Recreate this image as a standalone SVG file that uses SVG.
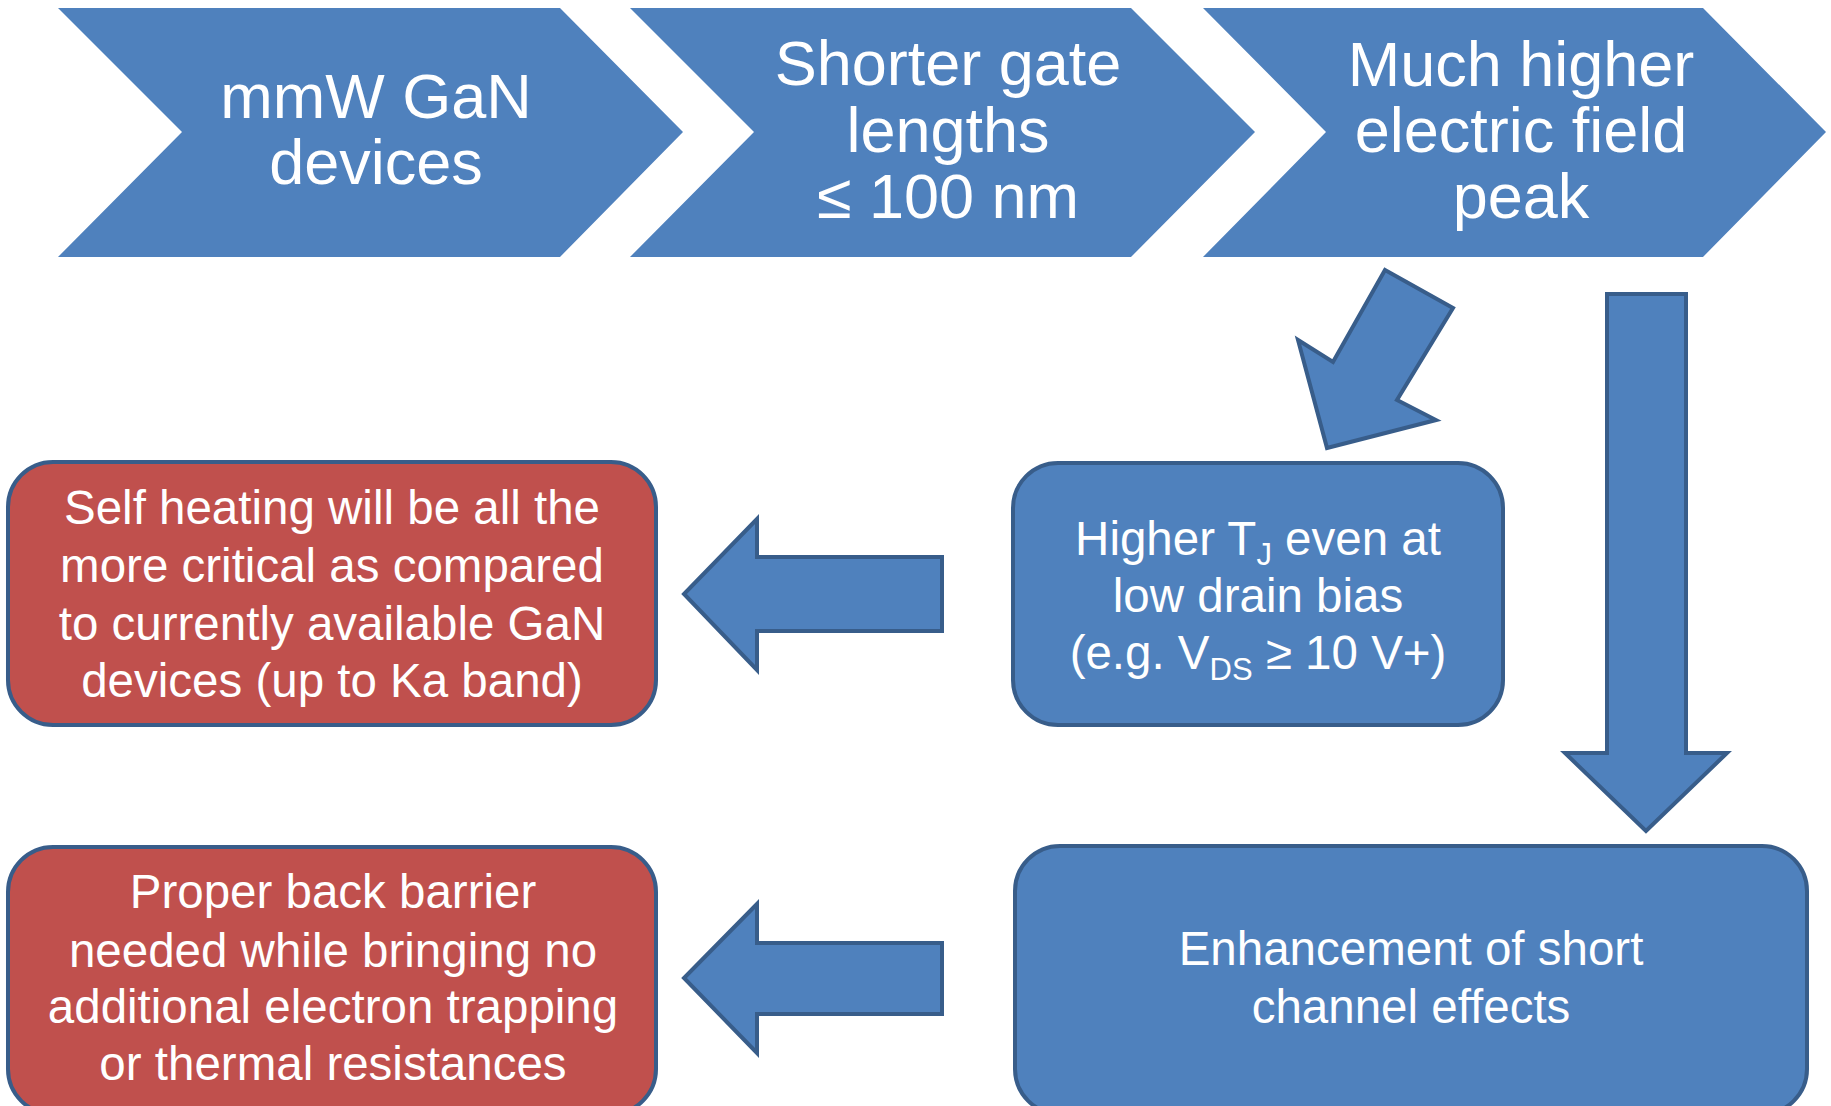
<svg xmlns="http://www.w3.org/2000/svg" width="1831" height="1106" viewBox="0 0 1831 1106">
<style>
.chev{fill:#4F81BD;}
.box{fill:#4F81BD;stroke:#385D8A;stroke-width:4;}
.red{fill:#C0504D;stroke:#385D8A;stroke-width:4;}
.arr{fill:#4F81BD;stroke:#385D8A;stroke-width:4;stroke-linejoin:miter;}
.t1{font-family:"Liberation Sans",Arial,sans-serif;font-size:63px;fill:#FFFFFF;text-anchor:middle;}
.t2{font-family:"Liberation Sans",Arial,sans-serif;font-size:47.5px;fill:#FFFFFF;text-anchor:middle;}
.sub{font-size:31px;}
</style>
<rect width="1831" height="1106" fill="#FFFFFF"/>
<g id="chevron-mmw">
<polygon class="chev" points="58,8 560,8 683,132 560,257 58,257 182,132"/>
<text class="t1" x="376" y="118">mmW GaN</text>
<text class="t1" x="376" y="184">devices</text>
</g>
<g id="chevron-gate">
<polygon class="chev" points="630,8 1131,8 1255,132 1131,257 630,257 754,132"/>
<text class="t1" x="948" y="85">Shorter gate</text>
<text class="t1" x="948" y="152">lengths</text>
<text class="t1" x="948" y="218">≤ 100 nm</text>
</g>
<g id="chevron-field">
<polygon class="chev" points="1203,8 1703,8 1826,132 1703,257 1203,257 1326,132"/>
<text class="t1" x="1521" y="86">Much higher</text>
<text class="t1" x="1521" y="152">electric field</text>
<text class="t1" x="1521" y="218">peak</text>
</g>
<g id="box-tj">
<rect class="box" x="1013" y="463" width="490" height="262" rx="45" ry="45"/>
<text class="t2" x="1258" y="555">Higher T<tspan class="sub" dy="10">J</tspan><tspan dy="-10"> even at</tspan></text>
<text class="t2" x="1258" y="612">low drain bias</text>
<text class="t2" x="1258" y="669">(e.g. V<tspan class="sub" dy="11">DS</tspan><tspan dy="-11"> ≥ 10 V+)</tspan></text>
</g>
<g id="box-short-channel">
<rect class="box" x="1015" y="846" width="792" height="268" rx="45" ry="45"/>
<text class="t2" x="1411" y="965">Enhancement of short</text>
<text class="t2" x="1411" y="1023">channel effects</text>
</g>
<g id="box-self-heating">
<rect class="red" x="8" y="462" width="648" height="263" rx="45" ry="45"/>
<text class="t2" x="332" y="524">Self heating will be all the</text>
<text class="t2" x="332" y="582">more critical as compared</text>
<text class="t2" x="332" y="640">to currently available GaN</text>
<text class="t2" x="332" y="697">devices (up to Ka band)</text>
</g>
<g id="box-back-barrier">
<rect class="red" x="8" y="847" width="648" height="267" rx="45" ry="45"/>
<text class="t2" x="333" y="908">Proper back barrier</text>
<text class="t2" x="333" y="967">needed while bringing no</text>
<text class="t2" x="333" y="1023">additional electron trapping</text>
<text class="t2" x="333" y="1080">or thermal resistances</text>
</g>
<g id="connectors">
<polygon class="arr" points="1385,270 1453,308 1397,400 1436,420 1327,448 1298,340 1333,362"/>
<polygon class="arr" points="1607,294 1686,294 1686,753 1727,753 1646,831 1565,753 1607,753"/>
<polygon class="arr" points="942,557 942,631 757,631 757,670 684,594 757,519 757,557"/>
<polygon class="arr" points="942,943 942,1014 757,1014 757,1053 684,978 757,904 757,943"/>
</g>
</svg>
